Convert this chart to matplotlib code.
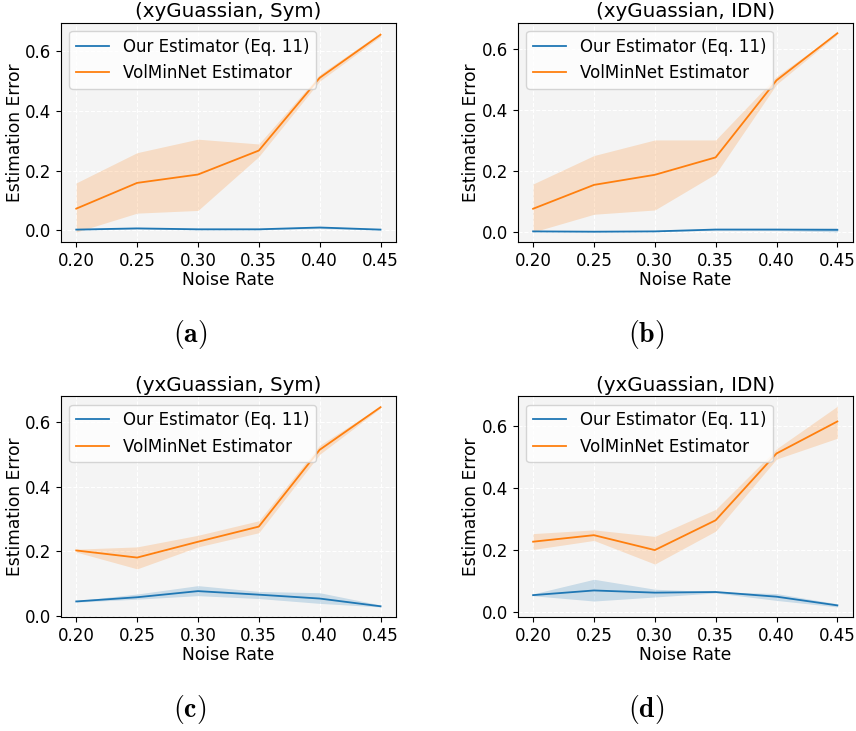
import numpy as np
import matplotlib
matplotlib.use("Agg")
import matplotlib.pyplot as plt

plt.rcParams["mathtext.fontset"] = "cm"

noise_rates = [0.20, 0.25, 0.30, 0.35, 0.40, 0.45]
titles = ["(xyGuassian, Sym)", "(xyGuassian, IDN)", "(yxGuassian, Sym)", "(yxGuassian, IDN)"]
tags = ["(a)", "(b)", "(c)", "(d)"]

# our estimator: mean, lower, upper
ours_mean = [
    [0.003, 0.007, 0.004, 0.004, 0.010, 0.003],
    [0.002, 0.001, 0.002, 0.008, 0.008, 0.007],
    [0.045, 0.058, 0.077, 0.066, 0.054, 0.030],
    [0.055, 0.070, 0.063, 0.065, 0.050, 0.022],
]
ours_low = [
    [0.001, 0.005, 0.002, 0.002, 0.007, 0.001],
    [0.001, 0.000, 0.001, 0.006, 0.005, 0.000],
    [0.043, 0.052, 0.063, 0.054, 0.039, 0.028],
    [0.053, 0.036, 0.049, 0.062, 0.038, 0.017],
]
ours_high = [
    [0.005, 0.009, 0.006, 0.006, 0.013, 0.005],
    [0.003, 0.002, 0.003, 0.010, 0.011, 0.014],
    [0.047, 0.068, 0.094, 0.076, 0.072, 0.034],
    [0.059, 0.106, 0.074, 0.066, 0.060, 0.027],
]

# VolMinNet estimator: mean, lower, upper
vol_mean = [
    [0.073, 0.159, 0.187, 0.267, 0.510, 0.654],
    [0.076, 0.154, 0.187, 0.244, 0.496, 0.650],
    [0.203, 0.181, 0.230, 0.277, 0.515, 0.647],
    [0.227, 0.248, 0.200, 0.296, 0.511, 0.614],
]
vol_low = [
    [-0.005, 0.058, 0.067, 0.247, 0.499, 0.648],
    [0.000, 0.058, 0.072, 0.190, 0.483, 0.646],
    [0.198, 0.146, 0.214, 0.258, 0.501, 0.644],
    [0.202, 0.231, 0.155, 0.261, 0.493, 0.560],
]
vol_high = [
    [0.159, 0.260, 0.305, 0.289, 0.521, 0.661],
    [0.157, 0.250, 0.301, 0.301, 0.509, 0.652],
    [0.207, 0.214, 0.250, 0.295, 0.529, 0.650],
    [0.253, 0.265, 0.244, 0.331, 0.526, 0.663],
]

fig = plt.figure(figsize=(8.56, 7.31), dpi=100)
positions = [
    [0.0713, 0.669, 0.391, 0.300],
    [0.605, 0.669, 0.391, 0.300],
    [0.0713, 0.156, 0.391, 0.302],
    [0.605, 0.156, 0.391, 0.302],
]
tag_xy = [(0.222, 0.542), (0.755, 0.542), (0.222, 0.029), (0.755, 0.029)]

for i in range(4):
    ax = fig.add_axes(positions[i])
    ax.set_facecolor("#f4f4f4")
    ax.grid(True, color="white", linestyle="--", linewidth=0.8)
    ax.set_axisbelow(True)

    ax.plot(noise_rates, ours_mean[i], color="#1f77b4", lw=1.3, label="Our Estimator (Eq. 11)")
    ax.fill_between(noise_rates, ours_low[i], ours_high[i], color="#1f77b4", alpha=0.2, lw=0)
    ax.plot(noise_rates, vol_mean[i], color="#ff7f0e", lw=1.3, label="VolMinNet Estimator")
    ax.fill_between(noise_rates, vol_low[i], vol_high[i], color="#ff7f0e", alpha=0.2, lw=0)

    ax.set_xticks(noise_rates)
    ax.set_xticklabels(["%.2f" % r for r in noise_rates])
    ax.set_yticks([0.0, 0.2, 0.4, 0.6])
    ax.tick_params(labelsize=12)
    ax.set_xlabel("Noise Rate", fontsize=12.3, labelpad=1)
    ax.set_ylabel("Estimation Error", fontsize=12.3, labelpad=1)
    ax.set_title(titles[i], fontsize=14.3, pad=4)
    ax.legend(loc="upper left", fontsize=12)

    fig.text(tag_xy[i][0], tag_xy[i][1], r"$\mathbf{%s}$" % tags[i],
             fontsize=20, ha="center", va="center")

fig.savefig("out.png", dpi=100)
